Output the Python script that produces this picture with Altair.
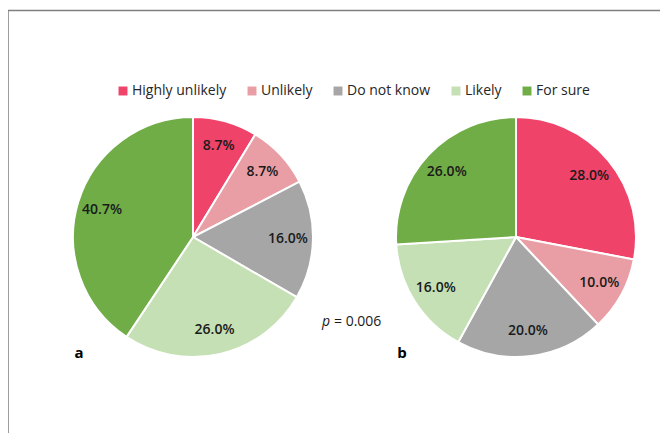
import altair as alt
import pandas as pd

categories = ["Highly unlikely", "Unlikely", "Do not know", "Likely", "For sure"]
colors = ["#F0436A", "#E89EA4", "#A6A6A6", "#C5E0B4", "#70AD47"]
panels = ["a", "b"]
values_a = [8.7, 8.7, 16.0, 26.0, 40.7]
values_b = [28.0, 10.0, 20.0, 16.0, 26.0]
p_label = "0.006"

rows = []
for panel, vals in zip(panels, [values_a, values_b]):
    for i, (c, v) in enumerate(zip(categories, vals)):
        rows.append({"panel": panel, "category": c, "order": i, "value": v})
df = pd.DataFrame(rows)
panel_df = pd.DataFrame({"panel": panels})

FONT = "Open Sans"
xscale = alt.Scale(type="point", domain=panels, range=[185, 508], padding=0)
theta_scale = alt.Scale(domain=[0, 1], range=[0, 6.283185307179586])

base = alt.Chart(df).transform_window(
    cum="sum(value)", sort=[alt.SortField("order")], groupby=["panel"]
).transform_joinaggregate(
    total="sum(value)", groupby=["panel"]
).transform_calculate(
    t0="(datum.cum - datum.value) / datum.total",
    t1="datum.cum / datum.total",
    tm="(datum.cum - datum.value / 2) / datum.total",
    label="format(datum.value, '.1f') + '%'",
)

arcs = base.mark_arc(radius=120, stroke="white", strokeWidth=2).encode(
    x=alt.X("panel:N", scale=xscale, axis=None),
    y=alt.value(229),
    theta=alt.Theta("t0:Q", scale=theta_scale),
    theta2="t1:Q",
    color=alt.Color(
        "category:N",
        scale=alt.Scale(domain=categories, range=colors),
        legend=alt.Legend(
            title=None,
            orient="none",
            legendX=108,
            legendY=76,
            direction="horizontal",
            columns=5,
            symbolType="square",
            symbolSize=80,
            symbolStrokeWidth=0,
            labelOffset=2,
            labelFont=FONT,
            labelFontSize=14,
            labelColor="#262626",
            columnPadding=18,
            padding=0,
        ),
    ),
    order="order:Q",
)

texts = base.mark_text(radius=95, font=FONT, fontSize=14, fontWeight=600, color="#1a1a1a").encode(
    x=alt.X("panel:N", scale=xscale, axis=None),
    y=alt.value(229),
    theta=alt.Theta("tm:Q", scale=theta_scale),
    text="label:N",
)

panel_text = alt.Chart(panel_df).mark_text(
    font=FONT, fontSize=15, fontWeight="bold", color="#000000", dx=-114
).encode(
    x=alt.X("panel:N", scale=xscale, axis=None),
    y=alt.value(345),
    text="panel:N",
)

p_df = pd.DataFrame({"t": [p_label]})
p_italic = alt.Chart(p_df).mark_text(
    font=FONT, fontSize=14, fontStyle="italic", color="#1a1a1a", align="left"
).encode(x=alt.value(314), y=alt.value(314), text=alt.value("p"))
p_value = alt.Chart(p_df).mark_text(
    font=FONT, fontSize=14, color="#1a1a1a", align="left"
).encode(x=alt.value(326), y=alt.value(314), text=alt.datum("= " + p_label))

border = alt.Chart(p_df).mark_rect(fill=None, stroke="#7f7f7f", strokeWidth=1.5).encode(
    x=alt.value(0), x2=alt.value(720), y=alt.value(2.5), y2=alt.value(520)
)

chart = alt.layer(border, arcs, texts, panel_text, p_italic, p_value).properties(
    width=652, height=425, autosize=alt.AutoSizeParams(type="none"), padding=0
).configure_view(stroke=None)

chart.save("out.html", embed_options={"renderer": "svg", "actions": False})
